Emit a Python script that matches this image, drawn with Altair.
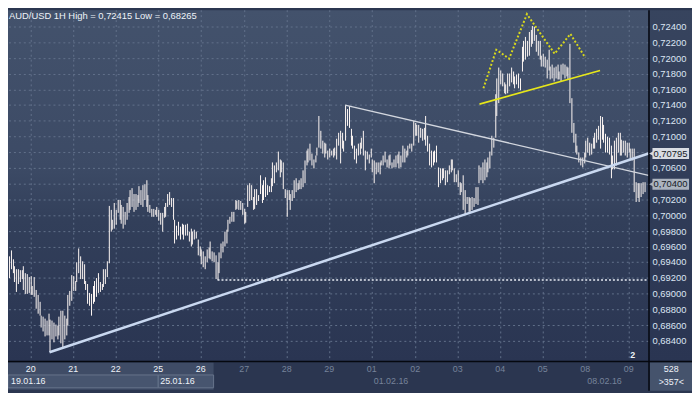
import altair as alt
import pandas as pd

title_text = ["AUD/USD 1H High = 0,72415 Low = 0,68265"]

day_labels = ["20", "21", "22", "25", "26", "27", "28", "29", "01", "02", "03", "04", "05", "08", "09"]
day_starts = [12, 36, 60, 84, 108, 132, 156, 180, 204, 228, 252, 276, 300, 324, 348]
day_active = [True, True, True, True, True, False, False, False, False, False, False, False, False, False, False]

week_labels = ["19.01.16", "25.01.16", "01.02.16", "08.02.16"]
week_anchor = [0, 84, 204, 324]
week_active = [True, True, False, False]

price_ticks = [0.684, 0.686, 0.688, 0.690, 0.692, 0.694, 0.696, 0.698, 0.700, 0.702, 0.704,
               0.706, 0.708, 0.710, 0.712, 0.714, 0.716, 0.718, 0.720, 0.722, 0.724]

# hourly bar highs / lows, 19.01.16 (partial) ... 09.02.16 (partial)
highs = [
    # 19
    0.6948, 0.6956, 0.6944, 0.6936, 0.6932, 0.6932, 0.6931, 0.6931, 0.6936, 0.6927, 0.6925, 0.6922,
    # 20
    0.6923, 0.6911, 0.6922, 0.6906, 0.6899, 0.6890, 0.6873, 0.6871, 0.6869, 0.6867, 0.6875, 0.6868,
    0.6867, 0.6864, 0.6862, 0.6860, 0.6871, 0.6879, 0.6879, 0.6873, 0.6869, 0.6899, 0.6904, 0.6924,
    # 21
    0.6923, 0.6917, 0.6940, 0.6958, 0.6948, 0.6942, 0.6938, 0.6917, 0.6913, 0.6902, 0.6900, 0.6911,
    0.6917, 0.6921, 0.6927, 0.6915, 0.6913, 0.6932, 0.6932, 0.6942, 0.7012, 0.7007, 0.6995, 0.7016,
    # 22
    0.7007, 0.7020, 0.7020, 0.7014, 0.7011, 0.7005, 0.7016, 0.7024, 0.7032, 0.7035, 0.7028, 0.7028,
    0.7026, 0.7037, 0.7032, 0.7039, 0.7040, 0.7045, 0.7026, 0.7014, 0.7009, 0.7008, 0.7007, 0.7011,
    # 25
    0.7007, 0.7003, 0.7003, 0.7011, 0.7016, 0.7028, 0.7030, 0.7022, 0.7022, 0.6995, 0.6987, 0.6992,
    0.6986, 0.6990, 0.6988, 0.6989, 0.6990, 0.6980, 0.6984, 0.6980, 0.6982, 0.6980, 0.6969, 0.6961,
    # 26
    0.6957, 0.6955, 0.6948, 0.6957, 0.6959, 0.6967, 0.6955, 0.6953, 0.6950, 0.6940, 0.6953, 0.6965,
    0.6967, 0.6980, 0.6982, 0.6995, 0.6999, 0.7005, 0.7005, 0.7020, 0.7018, 0.7020, 0.7018, 0.7016,
    # 27
    0.7009, 0.7005, 0.7039, 0.7041, 0.7039, 0.7024, 0.7034, 0.7034, 0.7026, 0.7051, 0.7039, 0.7045,
    0.7049, 0.7039, 0.7037, 0.7047, 0.7068, 0.7064, 0.7068, 0.7081, 0.7072, 0.7070, 0.7068, 0.7034,
    # 28
    0.7032, 0.7032, 0.7028, 0.7032, 0.7045, 0.7047, 0.7041, 0.7045, 0.7047, 0.7058, 0.7070, 0.7083,
    0.7085, 0.7091, 0.7079, 0.7072, 0.7076, 0.7087, 0.7127, 0.7108, 0.7095, 0.7093, 0.7091, 0.7083,
    # 29
    0.7085, 0.7083, 0.7085, 0.7087, 0.7098, 0.7106, 0.7108, 0.7106, 0.7095, 0.7140, 0.7135, 0.7139,
    0.7110, 0.7102, 0.7089, 0.7085, 0.7091, 0.7093, 0.7099, 0.7108, 0.7083, 0.7081, 0.7078, 0.7085,
    # 01
    0.7072, 0.7070, 0.7068, 0.7068, 0.7068, 0.7070, 0.7076, 0.7081, 0.7072, 0.7076, 0.7078, 0.7068,
    0.7072, 0.7076, 0.7078, 0.7081, 0.7076, 0.7089, 0.7085, 0.7083, 0.7089, 0.7091, 0.7091, 0.7120,
    # 02
    0.7118, 0.7116, 0.7116, 0.7112, 0.7110, 0.7112, 0.7127, 0.7102, 0.7091, 0.7083, 0.7081, 0.7083,
    0.7089, 0.7062, 0.7060, 0.7060, 0.7060, 0.7057, 0.7057, 0.7064, 0.7072, 0.7072, 0.7060, 0.7053,
    # 03
    0.7057, 0.7043, 0.7041, 0.7051, 0.7032, 0.7024, 0.7024, 0.7022, 0.7024, 0.7022, 0.7036, 0.7036,
    0.7064, 0.7062, 0.7068, 0.7072, 0.7068, 0.7074, 0.7081, 0.7102, 0.7099, 0.7154, 0.7175, 0.7188,
    # 04
    0.7185, 0.7181, 0.7169, 0.7167, 0.7181, 0.7181, 0.7188, 0.7183, 0.7177, 0.7179, 0.7181, 0.7175,
    0.7215, 0.7223, 0.7227, 0.7223, 0.7234, 0.7236, 0.72415, 0.7240, 0.7230, 0.7223, 0.7223, 0.7204,
    # 05
    0.7206, 0.7202, 0.7198, 0.7211, 0.7190, 0.7192, 0.7188, 0.7190, 0.7192, 0.7183, 0.7192, 0.7194,
    0.7192, 0.7190, 0.7188, 0.7219, 0.7150, 0.7118, 0.7104, 0.7089, 0.7080, 0.7074, 0.7074, 0.7080,
    # 08
    0.7095, 0.7099, 0.7093, 0.7091, 0.7099, 0.7106, 0.7110, 0.7114, 0.7127, 0.7125, 0.7116, 0.7104,
    0.7101, 0.7099, 0.7089, 0.7076, 0.7095, 0.7099, 0.7106, 0.7106, 0.7097, 0.7095, 0.7095, 0.7093,
    # 09
    0.7093, 0.7085, 0.7085, 0.7085, 0.7043, 0.7041, 0.7041, 0.7041, 0.7043, 0.7043,
]

lows = [
    # 19
    0.6921, 0.6932, 0.6927, 0.6915, 0.6903, 0.6913, 0.6915, 0.6919, 0.6906, 0.6901, 0.6900, 0.6902,
    # 20
    0.6899, 0.6899, 0.6896, 0.6881, 0.6875, 0.6873, 0.6858, 0.6852, 0.6846, 0.6848, 0.6848, 0.68265,
    0.6843, 0.6839, 0.6846, 0.6843, 0.6848, 0.6838, 0.6833, 0.6843, 0.6848, 0.6860, 0.6885, 0.6892,
    # 21
    0.6904, 0.6904, 0.6915, 0.6927, 0.6919, 0.6919, 0.6913, 0.6906, 0.6888, 0.6885, 0.6873, 0.6888,
    0.6890, 0.6896, 0.6902, 0.6903, 0.6906, 0.6909, 0.6913, 0.6922, 0.6939, 0.6980, 0.6982, 0.6984,
    # 22
    0.6988, 0.7003, 0.6995, 0.6990, 0.6984, 0.6988, 0.6995, 0.7003, 0.7007, 0.7011, 0.7005, 0.7007,
    0.7011, 0.7016, 0.7014, 0.7011, 0.7020, 0.7011, 0.7005, 0.7003, 0.6999, 0.6999, 0.7001, 0.6999,
    # 25
    0.6993, 0.6988, 0.6980, 0.6997, 0.6999, 0.7011, 0.7014, 0.7011, 0.6995, 0.6965, 0.6969, 0.6974,
    0.6969, 0.6976, 0.6969, 0.6974, 0.6974, 0.6967, 0.6961, 0.6963, 0.6969, 0.6971, 0.6950, 0.6948,
    # 26
    0.6938, 0.6934, 0.6932, 0.6940, 0.6946, 0.6944, 0.6942, 0.6940, 0.6919, 0.6918, 0.6927, 0.6946,
    0.6953, 0.6961, 0.6965, 0.6980, 0.6990, 0.6992, 0.6992, 0.7007, 0.7009, 0.7007, 0.7007, 0.7001,
    # 27
    0.6990, 0.6991, 0.7011, 0.7018, 0.7020, 0.7007, 0.7009, 0.7013, 0.7018, 0.7028, 0.7016, 0.7020,
    0.7024, 0.7026, 0.7030, 0.7030, 0.7037, 0.7041, 0.7055, 0.7058, 0.7049, 0.7055, 0.7034, 0.7022,
    # 28
    0.6999, 0.7020, 0.7007, 0.7018, 0.7022, 0.7030, 0.7032, 0.7034, 0.7034, 0.7036, 0.7041, 0.7064,
    0.7068, 0.7070, 0.7064, 0.7060, 0.7068, 0.7076, 0.7087, 0.7085, 0.7079, 0.7074, 0.7079, 0.7072,
    # 29
    0.7074, 0.7076, 0.7074, 0.7076, 0.7072, 0.7089, 0.7066, 0.7085, 0.7081, 0.7095, 0.7114, 0.7112,
    0.7089, 0.7085, 0.7072, 0.7066, 0.7076, 0.7078, 0.7085, 0.7076, 0.7057, 0.7072, 0.7066, 0.7074,
    # 01
    0.7055, 0.7041, 0.7053, 0.7055, 0.7053, 0.7064, 0.7064, 0.7068, 0.7062, 0.7060, 0.7064, 0.7060,
    0.7062, 0.7062, 0.7066, 0.7060, 0.7062, 0.7068, 0.7068, 0.7074, 0.7076, 0.7085, 0.7081, 0.7089,
    # 02
    0.7102, 0.7102, 0.7093, 0.7099, 0.7095, 0.7097, 0.7089, 0.7081, 0.7064, 0.7062, 0.7064, 0.7068,
    0.7068, 0.7036, 0.7041, 0.7045, 0.7047, 0.7039, 0.7043, 0.7053, 0.7055, 0.7057, 0.7043, 0.7043,
    # 03
    0.7036, 0.7026, 0.7030, 0.7007, 0.7001, 0.7015, 0.7005, 0.7005, 0.7007, 0.7011, 0.7015, 0.7013,
    0.7041, 0.7045, 0.7041, 0.7045, 0.7049, 0.7055, 0.7060, 0.7076, 0.7087, 0.7099, 0.7127, 0.7143,
    # 04
    0.7167, 0.7164, 0.7156, 0.7154, 0.7156, 0.7164, 0.7169, 0.7167, 0.7162, 0.7167, 0.7162, 0.7160,
    0.7183, 0.7196, 0.7198, 0.7202, 0.7204, 0.7215, 0.7219, 0.7223, 0.7209, 0.7204, 0.7198, 0.7190,
    # 05
    0.7190, 0.7188, 0.7175, 0.7185, 0.7173, 0.7175, 0.7171, 0.7175, 0.7173, 0.7173, 0.7171, 0.7179,
    0.7175, 0.7177, 0.7173, 0.7143, 0.7106, 0.7093, 0.7080, 0.7078, 0.7068, 0.7064, 0.7062, 0.7066,
    # 08
    0.7074, 0.7080, 0.7076, 0.7078, 0.7085, 0.7085, 0.7093, 0.7097, 0.7085, 0.7097, 0.7093, 0.7080,
    0.7080, 0.7078, 0.7048, 0.7059, 0.7059, 0.7064, 0.7080, 0.7076, 0.7076, 0.7080, 0.7076, 0.7074,
    # 09
    0.7080, 0.7072, 0.7070, 0.7030, 0.7017, 0.7022, 0.7017, 0.7024, 0.7028, 0.7030,
]

# drawn objects (bar index, price)
support_idx = [23, 359.3]
support_px = [0.68265, 0.70795]
resist_idx = [189, 359.3]
resist_px = [0.7140, 0.70513]
level_idx = [117, 359.3]
level_px = [0.6918, 0.6918]
neck_idx = [264.5, 332.3]
neck_px = [0.71419, 0.71847]
hs_idx = [266.7, 273.9, 281.1, 291.0, 306.4, 315.2, 323.5]
hs_px = [0.71620, 0.72111, 0.71998, 0.72564, 0.72060, 0.72312, 0.72010]

badge_values = [0.70795, 0.70400]
badge_text = ["0,70795", "0,70400"]
badge_fill = ["#d8dce3", "#abb3bf"]

scroll_start = [-0.5]
scroll_end = [115.2]
week_box_start = [-0.5, 84]
week_box_end = [83.7, 115.2]
corner_top = ["528"]
corner_bottom = [">357<"]
pane_label = ["2"]

FONT = "Liberation Sans"
W, H = 648, 355
xs = alt.Scale(domain=[-0.5, 359.3], nice=False, zero=False)
ys = alt.Scale(domain=[0.681484, 0.726138], nice=False, zero=False)

one = pd.DataFrame({"a": [0]})

bg = alt.Chart(one).mark_rect(
    color=alt.Gradient(
        gradient="linear",
        stops=[alt.GradientStop(color="#43526c", offset=0),
               alt.GradientStop(color="#3c4a65", offset=0.45),
               alt.GradientStop(color="#323f5a", offset=0.6),
               alt.GradientStop(color="#2a3552", offset=1)],
        x1=0, x2=0, y1=0, y2=1)
).encode(x=alt.value(0), x2=alt.value(W), y=alt.value(0), y2=alt.value(H))

right_bg = alt.Chart(one).mark_rect(
    color=alt.Gradient(
        gradient="linear",
        stops=[alt.GradientStop(color="#37445e", offset=0),
               alt.GradientStop(color="#2a3552", offset=1)],
        x1=0, x2=0, y1=0, y2=1)
).encode(x=alt.value(W), x2=alt.value(W + 44), y=alt.value(0), y2=alt.value(H))

tdf = pd.DataFrame({"price": price_ticks})
tdf["label"] = [f"{v:.5f}".replace(".", ",") for v in price_ticks]

hgrid = alt.Chart(tdf).mark_rule(
    color="#62718b", strokeDash=[2, 3], strokeWidth=1
).encode(y=alt.Y("price:Q", scale=ys, axis=None))

ylabels = alt.Chart(tdf).mark_text(
    align="left", baseline="middle", font=FONT, fontSize=9.5, color="#dce5f3"
).encode(x=alt.value(W + 4), y=alt.Y("price:Q", scale=ys, axis=None), text="label:N")

vgrid = alt.Chart(pd.DataFrame({"idx": day_starts})).mark_rule(
    color="#62718b", strokeDash=[2, 3], strokeWidth=1, xOffset=0.5
).encode(x=alt.X("idx:Q", scale=xs, axis=None))

df = pd.DataFrame({"idx": list(range(len(highs))), "high": highs, "low": lows})
bars = alt.Chart(df).mark_rule(color="#fff8f5", strokeWidth=1, xOffset=0.5).encode(
    x=alt.X("idx:Q", scale=xs, axis=None),
    y=alt.Y("low:Q", scale=ys, axis=None),
    y2="high:Q")


def line_layer(idx, px, **kw):
    d = pd.DataFrame({"idx": idx, "price": px})
    return alt.Chart(d).mark_line(**kw).encode(
        x=alt.X("idx:Q", scale=xs, axis=None),
        y=alt.Y("price:Q", scale=ys, axis=None))


resist = line_layer(resist_idx, resist_px, color="#d3d7df", strokeWidth=1.3)
support = line_layer(support_idx, support_px, color="#c9d8f0", strokeWidth=2.6)
level = line_layer(level_idx, level_px, color="#e8ecf4", strokeWidth=1.6, strokeDash=[2, 2])
neck = line_layer(neck_idx, neck_px, color="#e6e61a", strokeWidth=1.6)
hs = line_layer(hs_idx, hs_px, color="#d8d81c", strokeWidth=2, strokeDash=[2, 2])

hline_black = alt.Chart(one).mark_rule(color="#05080f", strokeWidth=1.5).encode(
    x=alt.value(0), x2=alt.value(W + 44), y=alt.value(H + 0.5))
vline_black = alt.Chart(one).mark_rule(color="#05080f", strokeWidth=1.5).encode(
    x=alt.value(W + 0.5), y=alt.value(0), y2=alt.value(H + 30))

bdf = pd.DataFrame({"price": badge_values, "label": badge_text, "fill": badge_fill})
badge_box = alt.Chart(bdf).mark_tick(orient="horizontal", size=37, thickness=11, opacity=1).encode(
    x=alt.value(W + 22.5), y=alt.Y("price:Q", scale=ys, axis=None),
    color=alt.Color("fill:N", scale=None))
badge_arrow = alt.Chart(bdf).mark_point(shape="triangle-left", filled=True, size=28, opacity=1).encode(
    x=alt.value(W + 3), y=alt.Y("price:Q", scale=ys, axis=None),
    color=alt.Color("fill:N", scale=None))
badge_txt = alt.Chart(bdf).mark_text(align="left", baseline="middle", font=FONT, fontSize=9.5,
                                     color="#141a26").encode(
    x=alt.value(W + 5), y=alt.Y("price:Q", scale=ys, axis=None), text="label:N")

scroll = alt.Chart(pd.DataFrame({"s": scroll_start, "e": scroll_end})).mark_rect(color="#3f4c66").encode(
    x=alt.X("s:Q", scale=xs, axis=None), x2="e:Q", y=alt.value(H + 1.5), y2=alt.value(H + 29))
wbox = alt.Chart(pd.DataFrame({"s": week_box_start, "e": week_box_end})).mark_rect(
    color="#47556f", stroke="#66738b", strokeWidth=1).encode(
    x=alt.X("s:Q", scale=xs, axis=None), x2="e:Q", y=alt.value(H + 14), y2=alt.value(H + 27))

ddf = pd.DataFrame({"idx": day_starts, "label": day_labels,
                    "c": ["#eef2f8" if a else "#76839a" for a in day_active]})
day_txt = alt.Chart(ddf).mark_text(baseline="middle", font=FONT, fontSize=9).encode(
    x=alt.X("idx:Q", scale=xs, axis=None), y=alt.value(H + 8.5), text="label:N",
    color=alt.Color("c:N", scale=None))

wdf = pd.DataFrame({"idx": week_anchor, "label": week_labels,
                    "c": ["#eef2f8" if a else "#76839a" for a in week_active]})
week_txt = alt.Chart(wdf).mark_text(align="left", baseline="middle", dx=2, font=FONT, fontSize=9).encode(
    x=alt.X("idx:Q", scale=xs, axis=None), y=alt.value(H + 20), text="label:N",
    color=alt.Color("c:N", scale=None))

corner_box = alt.Chart(one).mark_rect(color="#45536c").encode(
    x=alt.value(W + 1.5), x2=alt.value(W + 44), y=alt.value(H + 1.5), y2=alt.value(H + 30))
corner_txt1 = alt.Chart(pd.DataFrame({"t": corner_top})).mark_text(
    baseline="middle", font=FONT, fontSize=9, color="#eef2f8").encode(
    x=alt.value(W + 23), y=alt.value(H + 8), text="t:N")
corner_txt2 = alt.Chart(pd.DataFrame({"t": corner_bottom})).mark_text(
    baseline="middle", font=FONT, fontSize=9, color="#eef2f8").encode(
    x=alt.value(W + 23), y=alt.value(H + 21), text="t:N")

two = alt.Chart(pd.DataFrame({"t": pane_label})).mark_text(
    font=FONT, fontSize=9, fontWeight="bold", color="#eef2f8").encode(
    x=alt.value(W - 16), y=alt.value(H - 6), text="t:N")

title = alt.Chart(pd.DataFrame({"t": title_text})).mark_text(
    align="left", baseline="top", font=FONT, fontSize=9.5, color="#eef2f8").encode(
    x=alt.value(1), y=alt.value(1), text="t:N")

chart = alt.layer(
    bg, right_bg, hgrid, vgrid, ylabels, bars, resist, support, level, neck, hs,
    scroll, wbox, day_txt, week_txt, corner_box, corner_txt1, corner_txt2,
    hline_black, vline_black, badge_box, badge_arrow, badge_txt, two, title
).properties(
    width=W, height=H,
    autosize=alt.AutoSizeParams(type="none"),
    padding={"left": 0, "top": 0, "right": 44, "bottom": 30},
    background="#2b3650"
).configure_view(strokeWidth=0).configure_scale(round=True)

chart.save("out.html", embed_options={"renderer": "svg", "actions": False})
